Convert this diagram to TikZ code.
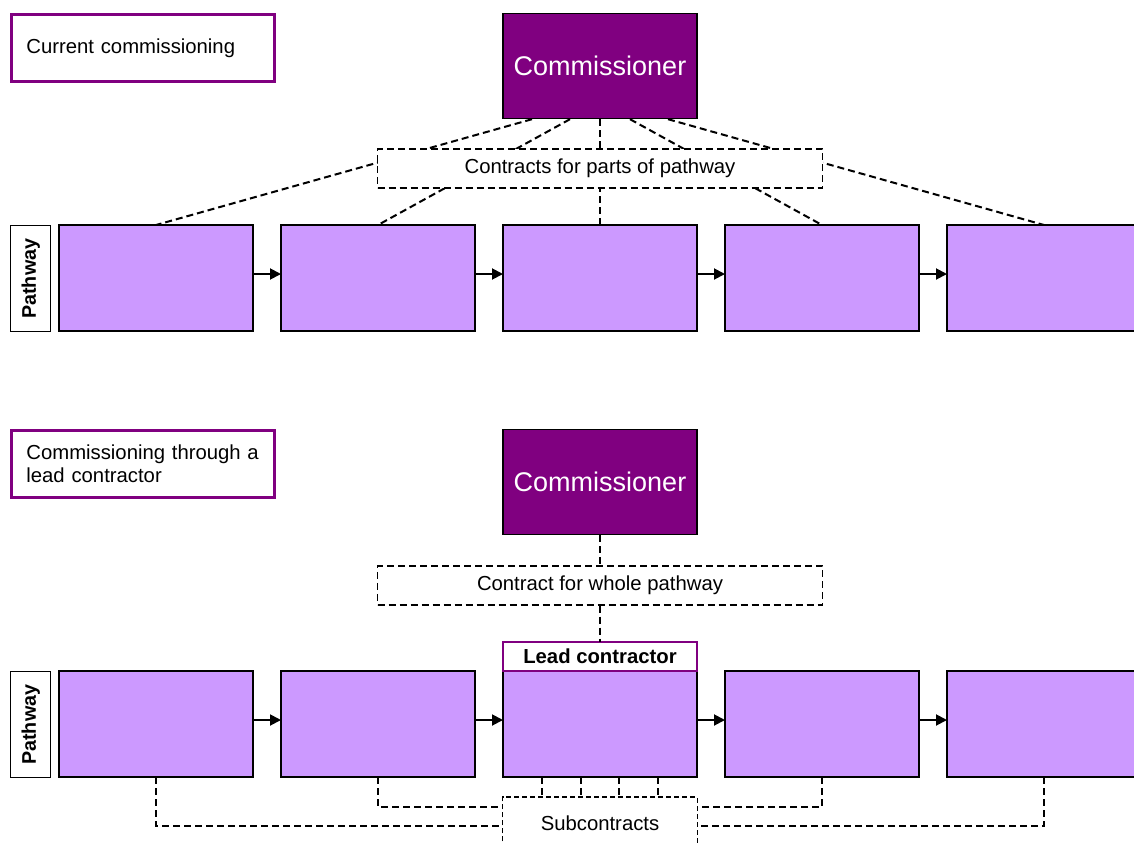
\documentclass[tikz,border=0pt]{standalone}
\usepackage{fontspec}
\setmainfont{Liberation Sans}
\usetikzlibrary{arrows.meta,positioning}
\definecolor{deeppurple}{HTML}{800080}
\definecolor{lilac}{HTML}{CC99FF}
\tikzset{
  txt/.style={font=\fontsize{20.3pt}{23.5pt}\selectfont},
  titlebox/.style={txt, draw=deeppurple, line width=2.8pt, fill=white, align=left,
    text width=233pt, inner xsep=15pt, inner ysep=0pt, minimum height=67pt, anchor=north west},
  commbox/.style={draw=black, line width=1.2pt, fill=deeppurple, text=white,
    font=\fontsize{27pt}{30pt}\selectfont, minimum width=194pt, minimum height=105pt,
    inner sep=0pt, anchor=north},
  stage/.style={draw=black, line width=1.4pt, fill=lilac, minimum width=194pt,
    minimum height=106pt, inner sep=0pt, outer sep=0pt, anchor=north west},
  pathlabel/.style={draw=black, line width=1.4pt, fill=white, minimum width=40pt,
    minimum height=106pt, inner sep=0pt, anchor=north west},
  pathtext/.style={font=\fontsize{19.7pt}{22pt}\selectfont\bfseries, rotate=90},
  contractbox/.style={txt, draw=black, line width=1.5pt, dash pattern=on 7pt off 4pt,
    fill=white, minimum width=445pt, minimum height=39pt, inner sep=0pt, anchor=north},
  leadhead/.style={txt, font=\fontsize{20.3pt}{23.5pt}\selectfont\bfseries, draw=deeppurple,
    line width=1.8pt, fill=white, minimum width=194pt, minimum height=29pt,
    inner sep=0pt, outer sep=0pt, anchor=south},
  dline/.style={draw=black, line width=2pt, dash pattern=on 7pt off 4pt},
  flow/.style={draw=black, line width=1.9pt, -{Triangle[length=11pt,width=11pt]}},
}
\begin{document}
\begin{tikzpicture}[x=1pt,y=-1pt]
\useasboundingbox (0,0) rectangle (1134,843);

% ---------- upper diagram: separate contracts ----------
\node[titlebox] (t1) at (10,13) {Current commissioning};

\node[stage] (a1) at (59,225) {};
\node[stage] (a2) at (281,225) {};
\node[stage] (a3) at (503,225) {};
\node[stage] (a4) at (725,225) {};
\node[stage] (a5) at (947,225) {};
\node[pathlabel] (pa) at (10,225) {};
\node[pathtext] at (pa.center) {Pathway};

\node[commbox] (c1) at (600,13) {Commissioner};

\draw[dline] ([xshift=-68pt]c1.south) -- (a1.north);
\draw[dline] ([xshift=-30pt]c1.south) -- (a2.north);
\draw[dline] (c1.south) -- (a3.north);
\draw[dline] ([xshift=30pt]c1.south) -- (a4.north);
\draw[dline] ([xshift=68pt]c1.south) -- (a5.north);

\node[contractbox] (k1) at (600,148) {Contracts for parts of pathway};

\foreach \p/\q in {a1/a2,a2/a3,a3/a4,a4/a5}
  \draw[flow] ([yshift=4pt]\p.east) -- ([yshift=4pt]\q.west);

% ---------- lower diagram: lead contractor ----------
\node[titlebox] (t2) at (10,429) {Commissioning through a\\lead contractor};

\node[stage] (b1) at (59,671) {};
\node[stage] (b2) at (281,671) {};
\node[stage] (b3) at (503,671) {};
\node[stage] (b4) at (725,671) {};
\node[stage] (b5) at (947,671) {};
\node[pathlabel] (pb) at (10,671) {};
\node[pathtext] at (pb.center) {Pathway};

\node[leadhead] (lead) at (b3.north) {Lead contractor};

\node[commbox] (c2) at (600,429) {Commissioner};
\node[contractbox] (k2) at (600,565) {Contract for whole pathway};
\draw[dline] (c2.south) -- (k2.north);
\draw[dline] (k2.south) -- (lead.north);

\foreach \p/\q in {b1/b2,b2/b3,b3/b4,b4/b5}
  \draw[flow] ([yshift=4pt]\p.east) -- ([yshift=4pt]\q.west);

% subcontracts box, open at the foot of the page
\node[txt, minimum width=194pt, minimum height=52pt, inner sep=0pt, anchor=north]
  (sub) at (600,797) {Subcontracts};
\draw[black, line width=1.2pt, dash pattern=on 5pt off 3pt]
  (sub.south west) -- (sub.north west) -- (sub.north east) -- (sub.south east);

\foreach \dx in {-58,-19,19,58}
  \draw[dline] ([xshift=\dx pt]b3.south) -- ([xshift=\dx pt]sub.north);

\draw[dline] (b2.south) |- ([yshift=-10pt]sub.north west);
\draw[dline] (b1.south) |- ([yshift=-29pt]sub.north west);
\draw[dline] (b4.south) |- ([yshift=-10pt]sub.north east);
\draw[dline] (b5.south) |- ([yshift=-29pt]sub.north east);
\end{tikzpicture}
\end{document}
